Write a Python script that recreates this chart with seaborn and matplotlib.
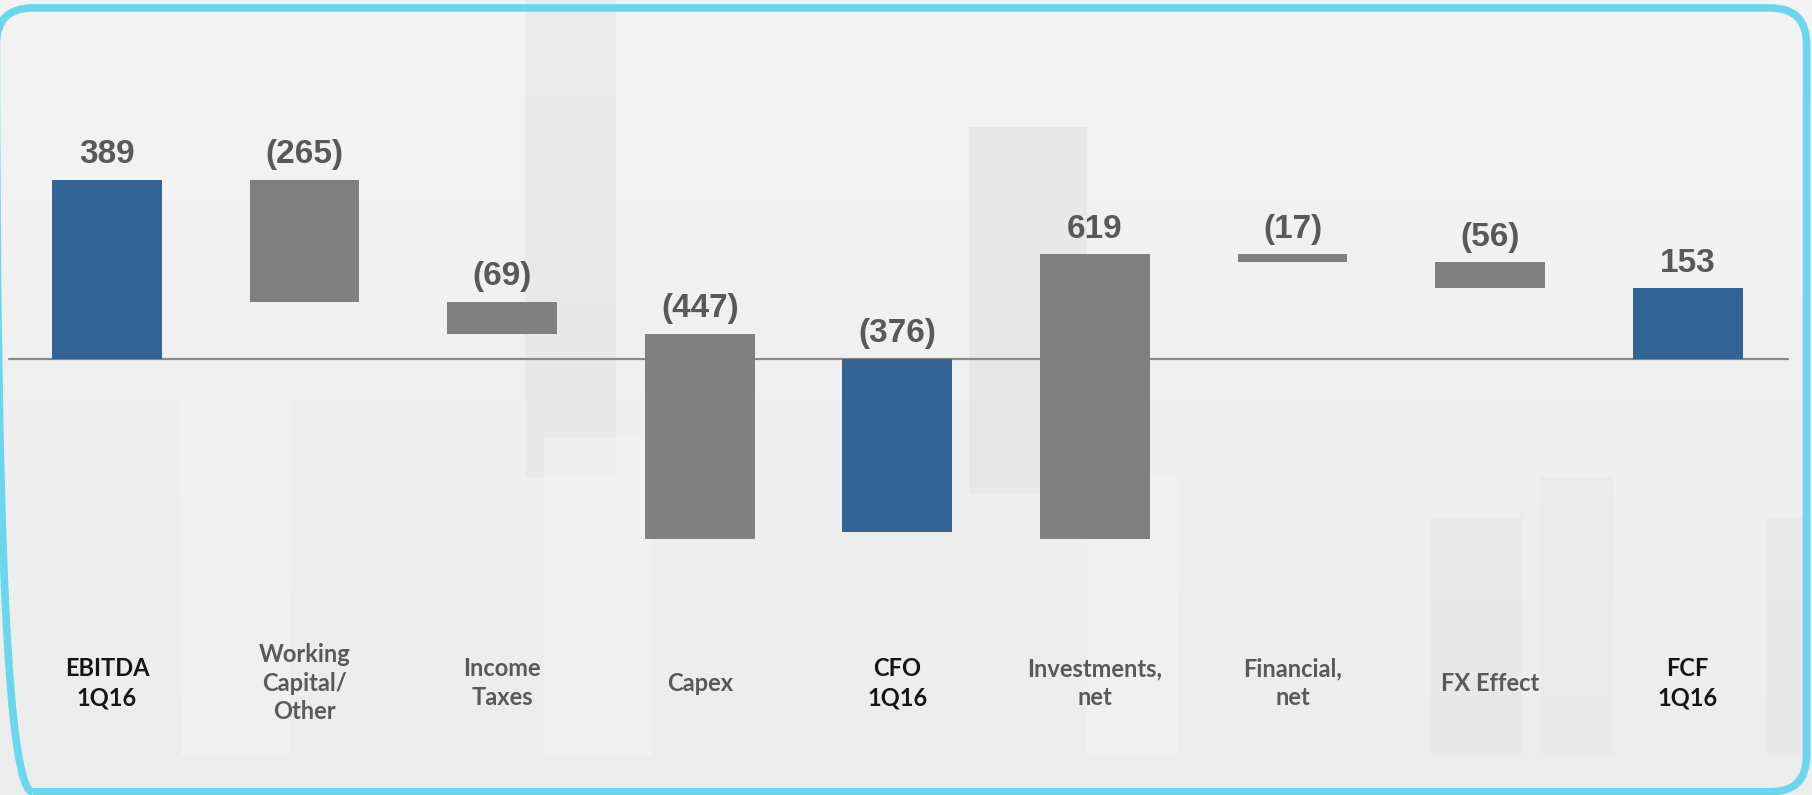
import numpy as np
import pandas as pd
import matplotlib
matplotlib.use("Agg")
import matplotlib.pyplot as plt
from matplotlib.patches import FancyBboxPatch, Rectangle
import seaborn as sns

# Cash-flow bridge, 1Q16
categories = ["EBITDA\n1Q16", "Working\nCapital/\nOther", "Income\nTaxes", "Capex",
              "CFO\n1Q16", "Investments,\nnet", "Financial,\nnet", "FX Effect", "FCF\n1Q16"]
values = [389, -265, -69, -447, -376, 619, -17, -56, 153]
is_total = [True, False, False, False, True, False, False, False, True]

# Floating bars continue from the running sum of the movements; totals start at zero
bottoms, heights, tops = [], [], []
running = 0
for v, tot in zip(values, is_total):
    if tot:
        if running == 0:
            running = v
        bottoms.append(0)
        heights.append(v)
        tops.append(max(v, 0))
    else:
        start = running
        running = running + v
        bottoms.append(start)
        heights.append(v)
        tops.append(max(start, running))

df = pd.DataFrame({"category": categories, "height": heights})

BLUE = "#326496"
GREY = "#808080"
LABEL_GREY = "#595959"

sns.set_theme(style="white")
plt.rcParams["font.family"] = ["Liberation Sans", "DejaVu Sans"]

fig = plt.figure(figsize=(18.12, 7.95), dpi=100)
fig.patch.set_facecolor("#efefef")

# Soft light backdrop with faint vertical blocks
bg = fig.add_axes([0, 0, 1, 1], zorder=0)
grad = np.linspace(0, 1, 256).reshape(-1, 1)
bg.imshow(grad, extent=[0, 1, 0, 1], aspect="auto", cmap=matplotlib.colors.LinearSegmentedColormap.from_list(
    "bgc", ["#f4f4f4", "#ececec"]), origin="upper")
for (x0, y0, w, h, c) in [(0.29, 0.40, 0.05, 0.60, "#e4e4e4"), (0.535, 0.38, 0.065, 0.46, "#e2e2e2"),
                          (0.30, 0.05, 0.06, 0.40, "#f4f4f4"), (0.79, 0.05, 0.05, 0.30, "#e6e6e6"),
                          (0.85, 0.05, 0.04, 0.35, "#e8e8e8"), (0.10, 0.05, 0.06, 0.45, "#f3f3f3"),
                          (0.975, 0.05, 0.025, 0.30, "#e6e6e6"), (0.60, 0.05, 0.05, 0.35, "#f3f3f3")]:
    bg.add_patch(Rectangle((x0, y0), w, h, facecolor=c, edgecolor="none", alpha=0.6))
bg.set_xlim(0, 1)
bg.set_ylim(0, 1)
bg.axis("off")

ax = fig.add_axes([0, 0, 1, 1], zorder=1)
ax.patch.set_alpha(0)

sns.barplot(data=df, x="category", y="height", order=categories, bottom=bottoms,
            color=GREY, width=0.556, errorbar=None, ax=ax, saturation=1, linewidth=0)
for patch, tot in zip(ax.patches, is_total):
    patch.set_facecolor(BLUE if tot else GREY)
    patch.set_edgecolor("none")

ax.set_xlim(-0.541, 8.629)
ax.set_ylim(-948, 780)
ax.axhline(0, xmin=0.005, xmax=0.987, color="#8a8a8a", lw=1.6, zorder=0.5)

# Value labels above each bar
for i, (v, top) in enumerate(zip(values, tops)):
    txt = f"{v:,}" if v >= 0 else f"({abs(v):,})"
    ax.annotate(txt, (i, top), xytext=(0, 12), textcoords="offset points",
                ha="center", va="baseline", fontsize=24, fontweight="bold", color=LABEL_GREY)

# Category labels below the chart
for i, (lab, tot) in enumerate(zip(categories, is_total)):
    ax.text(i, -705, lab, ha="center", va="center", fontsize=17, fontweight="bold",
            family=["Lato", "DejaVu Sans"], color="#151515" if tot else LABEL_GREY,
            linespacing=1.3)

ax.set_xlabel("")
ax.set_ylabel("")
ax.set_xticks([])
ax.set_yticks([])
for s in ax.spines.values():
    s.set_visible(False)

# Rounded cyan frame
frame = FancyBboxPatch((-0.002, 0.004), 0.999, 0.986, boxstyle="round,pad=0,rounding_size=0.02",
                       transform=fig.transFigure, facecolor="none", edgecolor="#6ad6ef",
                       linewidth=5.5, mutation_aspect=1812 / 795, zorder=5)
fig.add_artist(frame)

fig.savefig("out.png", dpi=100, facecolor=fig.get_facecolor())
